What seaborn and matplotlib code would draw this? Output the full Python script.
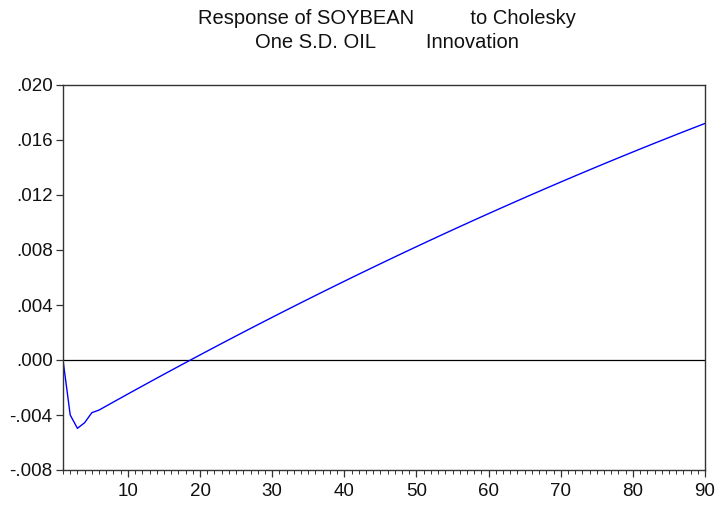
import numpy as np
import pandas as pd
import matplotlib
matplotlib.use("Agg")
import matplotlib.pyplot as plt
import seaborn as sns
from matplotlib.ticker import FuncFormatter, MultipleLocator

# Impulse response (periods 1..90)
periods = list(range(1, 91))
response = [
    0.0, -0.00400, -0.00497, -0.00456, -0.00383,
    -0.003640, -0.003346, -0.003054, -0.002763, -0.002472,
    -0.002183, -0.001895, -0.001608, -0.001322, -0.001037,
    -0.000754, -0.000471, -0.000190, 0.000091, 0.000370,
    0.000648, 0.000926, 0.001202, 0.001477, 0.001751,
    0.002023, 0.002295, 0.002566, 0.002835, 0.003103,
    0.003371, 0.003637, 0.003902, 0.004166, 0.004429,
    0.004691, 0.004952, 0.005211, 0.005470, 0.005727,
    0.005984, 0.006239, 0.006493, 0.006746, 0.006998,
    0.007249, 0.007499, 0.007748, 0.007995, 0.008242,
    0.008487, 0.008732, 0.008975, 0.009217, 0.009458,
    0.009698, 0.009937, 0.010175, 0.010411, 0.010647,
    0.010881, 0.011115, 0.011347, 0.011578, 0.011808,
    0.012038, 0.012265, 0.012492, 0.012718, 0.012943,
    0.013166, 0.013389, 0.013610, 0.013830, 0.014050,
    0.014268, 0.014485, 0.014701, 0.014915, 0.015129,
    0.015342, 0.015553, 0.015764, 0.015973, 0.016181,
    0.016389, 0.016595, 0.016800, 0.017003, 0.017206,
]
y_ticks = [-0.008, -0.004, 0.000, 0.004, 0.008, 0.012, 0.016, 0.020]
x_ticks = [10, 20, 30, 40, 50, 60, 70, 80, 90]

title_text = "Response of SOYBEAN          to Cholesky\nOne S.D. OIL         Innovation"

sns.set_style("white")
plt.rcParams['font.family'] = ['Liberation Sans', 'DejaVu Sans']

df = pd.DataFrame({"period": periods, "response": response})

fig = plt.figure(figsize=(7.17, 5.05), dpi=100)
ax = fig.add_axes([63 / 717, 35 / 505, 642 / 717, 385 / 505])

ax.axhline(0, color="black", lw=0.9, zorder=1)
sns.lineplot(data=df, x="period", y="response", color="#0000ff", lw=1.0, ax=ax, zorder=2)

ax.set_xlim(1, 90)
ax.set_ylim(-0.008, 0.020)
ax.set_xticks(x_ticks)
ax.xaxis.set_minor_locator(MultipleLocator(1))
ax.set_yticks(y_ticks)


def fmt_tick(v, pos):
    s = f"{v:.3f}"
    if s.startswith("-0"):
        return "-" + s[2:]
    if s.startswith("0"):
        return s[1:]
    return s


ax.yaxis.set_major_formatter(FuncFormatter(fmt_tick))
ax.set_xlabel("")
ax.set_ylabel("")

for sp in ax.spines.values():
    sp.set_visible(True)
    sp.set_color("#333333")
    sp.set_linewidth(1.0)

ax.tick_params(axis="y", which="major", direction="out", length=5, width=0.9,
               color="#333333", labelcolor="#111111", labelsize=13.5, pad=2.5,
               left=True, right=False)
ax.tick_params(axis="x", which="major", direction="out", length=5, width=0.9,
               color="#333333", labelcolor="#111111", labelsize=13.5, pad=4.5,
               bottom=True, top=False)
ax.tick_params(axis="x", which="minor", direction="out", length=3, width=0.7,
               color="#333333", bottom=True, top=False)

fig.text(387 / 717, 1 - 9 / 505, title_text, ha="center", va="top",
         fontsize=14.5, color="#111111", linespacing=1.3)

fig.savefig("out.png", dpi=100)
